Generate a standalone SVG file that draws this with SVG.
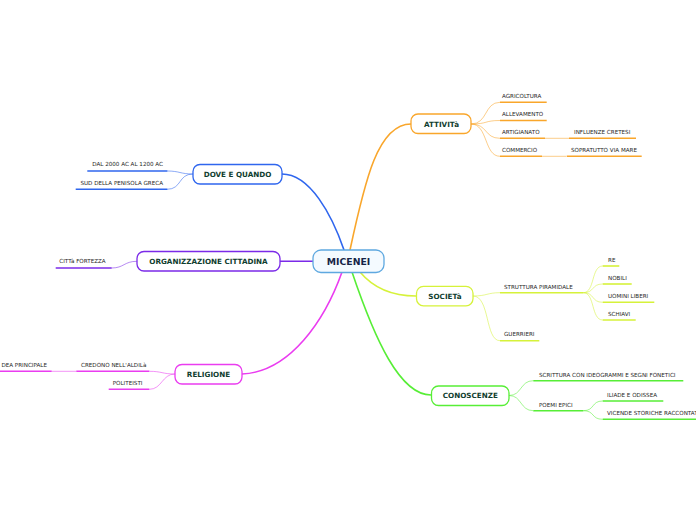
<svg xmlns="http://www.w3.org/2000/svg" width="696" height="520" viewBox="0 0 696 520">
<style>
.bg{fill:#ffffff}
.node{fill:#ffffff;stroke-width:1.3}
.nt{font-family:"DejaVu Sans",Verdana,sans-serif;font-weight:bold;font-size:7.2px;fill:#0f3d2e;text-anchor:middle}
.st{font-family:"DejaVu Sans",Verdana,sans-serif;font-size:5.6px;fill:#262626}
.main{fill:none;stroke-width:1.6;stroke-linecap:round}
.sub{fill:none;stroke-width:1;opacity:0.55}
.ul{fill:none;stroke-width:1.6}
.orange{stroke:#f9a62b}
.blue{stroke:#2f66ee}
.purple{stroke:#7b2ae8}
.magenta{stroke:#ea3cf0}
.lime{stroke:#d6f23a}
.green{stroke:#57ee36}
</style>
<rect class="bg" x="0" y="0" width="696" height="520"/>
<g id="connectors">
  <path class="main blue" d="M344,250 C332,215 310,174 282,174"/>
  <path class="main orange" d="M350,250 C365,180 378,124 411,124"/>
  <path class="main purple" d="M313,261.3 L280,261.3"/>
  <path class="main magenta" d="M342,272 C325,320 290,372 242,374"/>
  <path class="main green" d="M352,272 C375,340 400,395 431,395"/>
  <path class="main lime" d="M360,272 C375,290 395,296 416,296"/>
  <path class="sub orange" d="M471,124 C488,124 484,102.3 500,102.3"/>
  <path class="sub orange" d="M471,124 C488,124 484,120.5 500,120.5"/>
  <path class="sub orange" d="M471,124 C488,124 484,138.3 500,138.3"/>
  <path class="sub orange" d="M471,124 C488,124 484,156.3 500,156.3"/>
  <path class="sub orange" d="M545,138.3 L569,138.3"/>
  <path class="sub orange" d="M542,156.3 L566,156.3"/>
  <path class="sub blue" d="M193,174 C180,174 180,171 167,171"/>
  <path class="sub blue" d="M193,174 C178,174 182,189.3 167,189.3"/>
  <path class="sub purple" d="M137,261.3 C124,261.3 124,268 111.7,268"/>
  <path class="sub magenta" d="M175,374 C162,374 162,371.3 149.3,371.3"/>
  <path class="sub magenta" d="M175,374 C162,374 162,389.3 149.3,389.3"/>
  <path class="sub magenta" d="M51.7,371.3 L76.3,371.3"/>
  <path class="sub lime" d="M473,296 C487,296 487,292.7 500,292.7"/>
  <path class="sub lime" d="M473,296 C490,296 485,340.7 500,340.7"/>
  <path class="sub lime" d="M583.3,292.7 C595,292.7 591,266 602.7,266"/>
  <path class="sub lime" d="M583.3,292.7 C595,292.7 591,284 602.7,284"/>
  <path class="sub lime" d="M583.3,292.7 C595,292.7 591,302.3 602.7,302.3"/>
  <path class="sub lime" d="M583.3,292.7 C595,292.7 591,320 602.7,320"/>
  <path class="sub green" d="M509,395.5 C522,395.5 520,380.7 533.3,380.7"/>
  <path class="sub green" d="M509,395.5 C522,395.5 520,410.7 533.3,410.7"/>
  <path class="sub green" d="M583.3,410.7 C595,410.7 591,401 602.7,401"/>
  <path class="sub green" d="M583.3,410.7 C595,410.7 591,419.3 602.7,419.3"/>
</g>
<g id="micenei">
  <rect x="313" y="250" width="71" height="22.5" rx="8" fill="#f4faff" stroke="#5ea8e0" stroke-width="1.3"/>
  <text x="348.5" y="264.5" font-family="DejaVu Sans,Verdana,sans-serif" font-weight="bold" font-size="9.3px" fill="#162447" text-anchor="middle">MICENEI</text>
</g>
<g id="attivita">
  <rect class="node orange" x="411" y="114" width="60" height="19.5" rx="7"/>
  <text class="nt" x="441.5" y="126.5">ATTIVITà</text>
</g>
<g id="agricoltura"><text class="st" x="502" y="98">AGRICOLTURA</text><path class="ul orange" d="M500,102.3 L546.7,102.3"/></g>
<g id="allevamento"><text class="st" x="502" y="116.3">ALLEVAMENTO</text><path class="ul orange" d="M500,120.5 L546.7,120.5"/></g>
<g id="artigianato"><text class="st" x="502" y="134">ARTIGIANATO</text><path class="ul orange" d="M500,138.3 L545,138.3"/></g>
<g id="influenze"><text class="st" x="574" y="134">INFLUENZE CRETESI</text><path class="ul orange" d="M569,138.3 L636,138.3"/></g>
<g id="commercio"><text class="st" x="502" y="152">COMMERCIO</text><path class="ul orange" d="M500,156.3 L542,156.3"/></g>
<g id="sopratutto"><text class="st" x="571" y="152">SOPRATUTTO VIA MARE</text><path class="ul orange" d="M566.7,156.3 L641.7,156.3"/></g>
<g id="dove">
  <rect class="node blue" x="193" y="164.5" width="89" height="19.5" rx="7"/>
  <text class="nt" x="237.5" y="176.8">DOVE E QUANDO</text>
</g>
<g id="dal2000"><text class="st" x="163" y="166.3" text-anchor="end">DAL 2000 AC AL 1200 AC</text><path class="ul blue" d="M87.3,171 L167.3,171"/></g>
<g id="sud"><text class="st" x="163" y="184.8" text-anchor="end">SUD DELLA PENISOLA GRECA</text><path class="ul blue" d="M75.7,189.3 L167.3,189.3"/></g>
<g id="organizzazione">
  <rect class="node purple" x="137" y="251.5" width="143" height="19.5" rx="7"/>
  <text class="nt" x="208.5" y="263.8">ORGANIZZAZIONE CITTADINA</text>
</g>
<g id="citta"><text class="st" x="59.3" y="263">CITTà FORTEZZA</text><path class="ul purple" d="M55.7,268 L111.7,268"/></g>
<g id="religione">
  <rect class="node magenta" x="175" y="364.5" width="67" height="19.5" rx="7"/>
  <text class="nt" x="208.5" y="376.8">RELIGIONE</text>
</g>
<g id="credono"><text class="st" x="81" y="366.7">CREDONO NELL'ALDILà</text><path class="ul magenta" d="M76.3,371.3 L149.3,371.3"/></g>
<g id="dea"><text class="st" x="47" y="366.7" text-anchor="end">DEA PRINCIPALE</text><path class="ul magenta" d="M0,371.3 L51.7,371.3"/></g>
<g id="politeisti"><text class="st" x="112.7" y="384.7">POLITEISTI</text><path class="ul magenta" d="M108.7,389.3 L149.3,389.3"/></g>
<g id="societa">
  <rect class="node lime" x="416.5" y="286.3" width="56.5" height="19.5" rx="7"/>
  <text class="nt" x="445" y="298.6">SOCIETà</text>
</g>
<g id="struttura"><text class="st" x="504" y="288.7">STRUTTURA PIRAMIDALE</text><path class="ul lime" d="M500,292.7 L583.3,292.7"/></g>
<g id="re"><text class="st" x="608" y="262">RE</text><path class="ul lime" d="M602.7,266 L619.3,266"/></g>
<g id="nobili"><text class="st" x="608" y="280">NOBILI</text><path class="ul lime" d="M602.7,284 L631.7,284"/></g>
<g id="uomini"><text class="st" x="608" y="298.3">UOMINI LIBERI</text><path class="ul lime" d="M602.7,302.3 L654.3,302.3"/></g>
<g id="schiavi"><text class="st" x="608" y="316">SCHIAVI</text><path class="ul lime" d="M602.7,320 L635.7,320"/></g>
<g id="guerrieri"><text class="st" x="504" y="336.3">GUERRIERI</text><path class="ul lime" d="M500,340.7 L539.3,340.7"/></g>
<g id="conoscenze">
  <rect class="node green" x="431.5" y="386" width="77.5" height="19.5" rx="7"/>
  <text class="nt" x="470.3" y="398.3">CONOSCENZE</text>
</g>
<g id="scrittura"><text class="st" x="539" y="376.5">SCRITTURA CON IDEOGRAMMI E SEGNI FONETICI</text><path class="ul green" d="M533.3,380.7 L683.3,380.7"/></g>
<g id="poemi"><text class="st" x="539" y="406.5">POEMI EPICI</text><path class="ul green" d="M533.3,410.7 L583.3,410.7"/></g>
<g id="iliade"><text class="st" x="607" y="396.7">ILIADE E ODISSEA</text><path class="ul green" d="M602.7,401 L663.3,401"/></g>
<g id="vicende"><text class="st" x="607" y="415">VICENDE STORICHE RACCONTATE</text><path class="ul green" d="M602.7,419.3 L696,419.3"/></g>
</svg>
